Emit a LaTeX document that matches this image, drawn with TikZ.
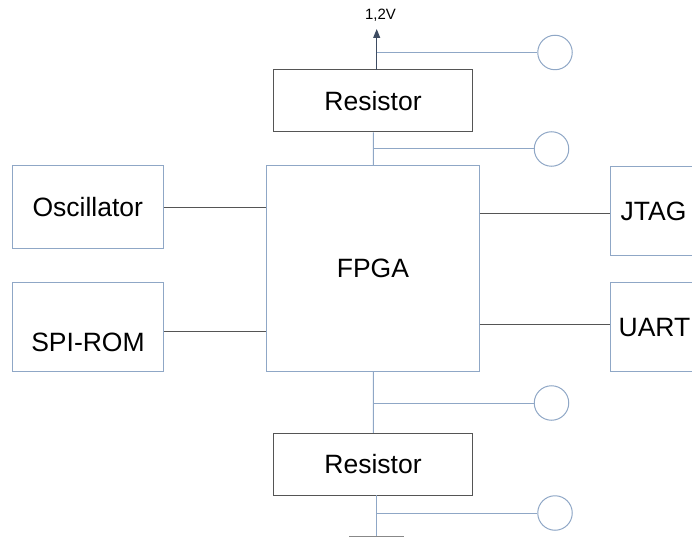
\documentclass[tikz,border=0pt]{standalone}
\usepackage{fontspec}
\setmainfont{Liberation Sans}
\usetikzlibrary{arrows.meta,calc}
\definecolor{boxblue}{HTML}{8FA7C6}
\definecolor{darkline}{HTML}{555555}
\definecolor{arrowc}{HTML}{3E4C62}
\begin{document}
\begin{tikzpicture}[x=1bp,y=-1bp,
  blk/.style={draw=boxblue,line width=1bp,rectangle,inner sep=0pt,fill=white},
  resbox/.style={draw=darkline,line width=1bp,rectangle,inner sep=0pt,minimum width=199.5bp,minimum height=62bp},
  big/.style={font=\fontsize{26.6}{30}\selectfont},
  pin/.style={draw=boxblue,line width=1bp,circle,inner sep=0pt,minimum size=34.5bp},
  bline/.style={draw=boxblue,line width=1bp},
  dline/.style={draw=darkline,line width=1bp}]
\useasboundingbox (0,0) rectangle (692,537);
\clip (0,0) rectangle (692,537);
% blocks
\node[resbox,big] (res1) at (373,100.8) {Resistor};
\node[blk,big,minimum width=212.3bp,minimum height=206bp] (fpga) at (372.9,268.5) {FPGA};
\node[blk,minimum width=151bp,minimum height=82.6bp] (osc) at (87.8,207) {};
\node[big] (osct) at (87.8,207) {Oscillator};
\node[blk,minimum width=151bp,minimum height=89bp] (spi) at (87.8,327.2) {};
\node[big] (spit) at (88,342) {SPI-ROM};
\node[blk,minimum width=110bp,minimum height=89.3bp] (jtag) at (665,211.3) {};
\node[big] (jtagt) at (653.5,211.7) {JTAG};
\node[blk,minimum width=110bp,minimum height=89bp] (uart) at (665,327.2) {};
\node[big] (uartt) at (654.5,327.3) {UART};
\node[resbox,big] (res2) at (373,464.3) {Resistor};
% pins
\node[pin] (c1) at (555,52.5) {};
\node[pin] (c2) at (551.5,149) {};
\node[pin] (c3) at (551.5,403) {};
\node[pin] (c4) at (555,513) {};
% supply arrow
\coordinate (vtop) at (376.7,29);
\node[font=\fontsize{15}{18}\selectfont] (vlab) at (380.5,15.5) {1,2V};
\draw[draw=arrowc,line width=1bp,-{Triangle[length=9bp,width=7bp]}] (376.7,70) -- (vtop);
\draw[bline] (376.7,52.5) -- (c1.west);
% resistor 1 to FPGA
\draw[bline] ($(res1.south)+(0.3,0)$) -- ($(fpga.north)+(0.4,0)$);
\draw[bline] (373.3,149) -- (c2.west);
% FPGA to resistor 2
\draw[bline] ($(fpga.south)+(0.4,0)$) -- ($(res2.north)+(0.3,0)$);
\draw[bline] (373.3,403) -- (c3.west);
% resistor 2 to ground
\coordinate (gnd) at (376.7,536);
\draw[bline] (376.7,495.3) -- (gnd);
\draw[bline] (376.7,513) -- (c4.west);
\draw[draw=darkline!70,line width=1bp] (349,536) -- (404,536);
% peripheral links
\draw[dline] (osc.east |- 0,207.3) -- (fpga.west |- 0,207.3);
\draw[dline] (spi.east |- 0,331) -- (fpga.west |- 0,331);
\draw[dline] (fpga.east |- 0,213.3) -- (jtag.west |- 0,213.3);
\draw[dline] (fpga.east |- 0,324) -- (uart.west |- 0,324);
\end{tikzpicture}
\end{document}
